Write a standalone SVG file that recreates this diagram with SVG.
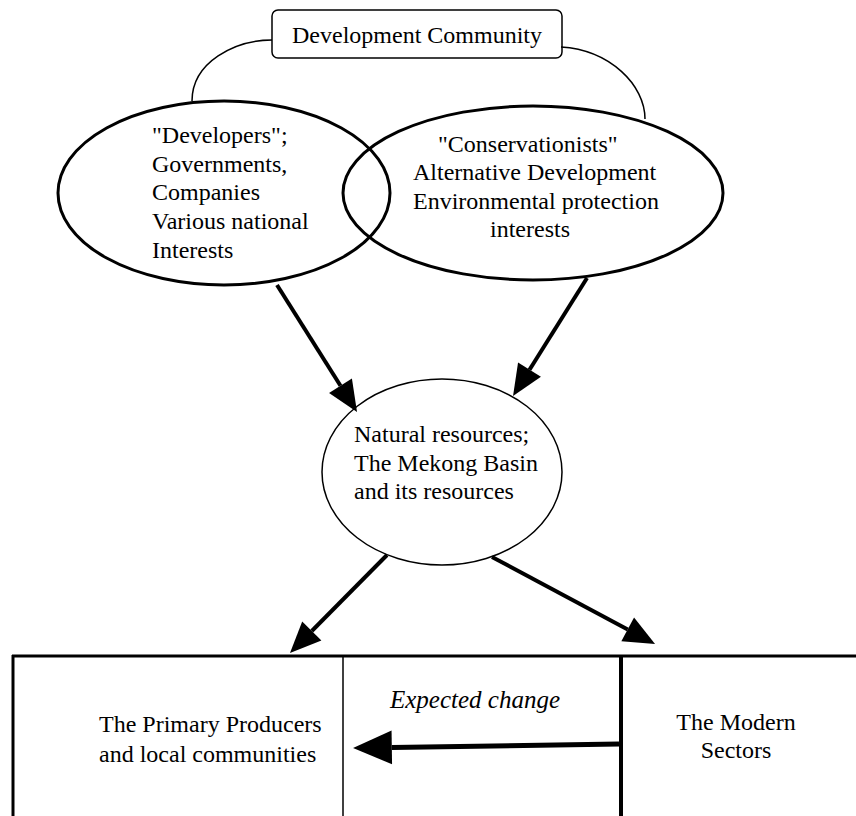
<svg xmlns="http://www.w3.org/2000/svg" width="856" height="816" viewBox="0 0 856 816">
<style>
  text { font-family: "Liberation Serif", "Times New Roman", serif; font-size: 24px; fill: #000; }
  .it { font-style: italic; font-size: 25px; }
  .mid { text-anchor: middle; }
  .thin { fill: none; stroke: #000; stroke-width: 1.5; }
  .oval { fill: none; stroke: #000; stroke-width: 3; }
  .arrow { fill: none; stroke: #000; stroke-width: 4; marker-end: url(#head); }
  .wall { stroke: #000; stroke-width: 3; fill: none; }
</style>
<defs>
  <marker id="head" markerUnits="strokeWidth" markerWidth="7.75" markerHeight="6.75" viewBox="0 0 31 27" refX="0" refY="13.5" orient="auto" overflow="visible">
    <path d="M0,0 L31,13.5 L0,27 Z" fill="#000"/>
  </marker>
</defs>
<rect width="856" height="816" fill="#fff"/>

<g id="connectors">
  <path class="thin" d="M272,40 C235,40 192,62 192,101"/>
  <path class="thin" d="M561,47 C610,50 645,85 645,119"/>
  <line class="arrow" x1="277" y1="285" x2="340.5" y2="385.8"/>
  <line class="arrow" x1="587" y1="278" x2="529.5" y2="369.7"/>
  <line class="arrow" x1="387" y1="555" x2="311.8" y2="631"/>
  <line class="arrow" x1="492" y1="557" x2="627.7" y2="629.4"/>
  <line class="arrow" style="stroke-width:5" x1="619" y1="744" x2="391.8" y2="747.4"/>
</g>

<g id="development-community">
  <rect class="thin" x="272" y="10" width="290" height="48" rx="6"/>
  <text class="mid" x="417" y="43">Development Community</text>
</g>

<g id="developers">
  <ellipse class="oval" cx="224" cy="193" rx="166" ry="92"/>
  <text x="152" y="143">"Developers";</text>
  <text x="152" y="172">Governments,</text>
  <text x="152" y="200">Companies</text>
  <text x="152" y="229">Various national</text>
  <text x="152" y="258">Interests</text>
</g>

<g id="conservationists">
  <ellipse class="oval" cx="533" cy="193" rx="190" ry="87"/>
  <text x="438" y="152">"Conservationists"</text>
  <text x="413" y="180">Alternative Development</text>
  <text x="413" y="209">Environmental protection</text>
  <text x="490" y="237">interests</text>
</g>

<g id="natural-resources">
  <ellipse class="thin" cx="442" cy="472" rx="120" ry="93"/>
  <text x="354" y="442">Natural resources;</text>
  <text x="354" y="471">The Mekong Basin</text>
  <text x="354" y="499">and its resources</text>
</g>

<g id="sectors">
  <line class="wall" x1="12" y1="656" x2="856" y2="656"/>
  <line class="wall" x1="13" y1="655" x2="13" y2="816"/>
  <line class="thin" x1="343" y1="656" x2="343" y2="816"/>
  <line class="wall" style="stroke-width:4" x1="621" y1="655" x2="621" y2="816"/>
</g>

<g id="primary-producers">
  <text x="99" y="732">The Primary Producers</text>
  <text x="99" y="762">and local communities</text>
</g>

<g id="expected-change">
  <text class="it mid" x="475" y="708">Expected change</text>
</g>

<g id="modern-sectors">
  <text class="mid" x="736" y="730">The Modern</text>
  <text class="mid" x="736" y="758">Sectors</text>
</g>
</svg>
